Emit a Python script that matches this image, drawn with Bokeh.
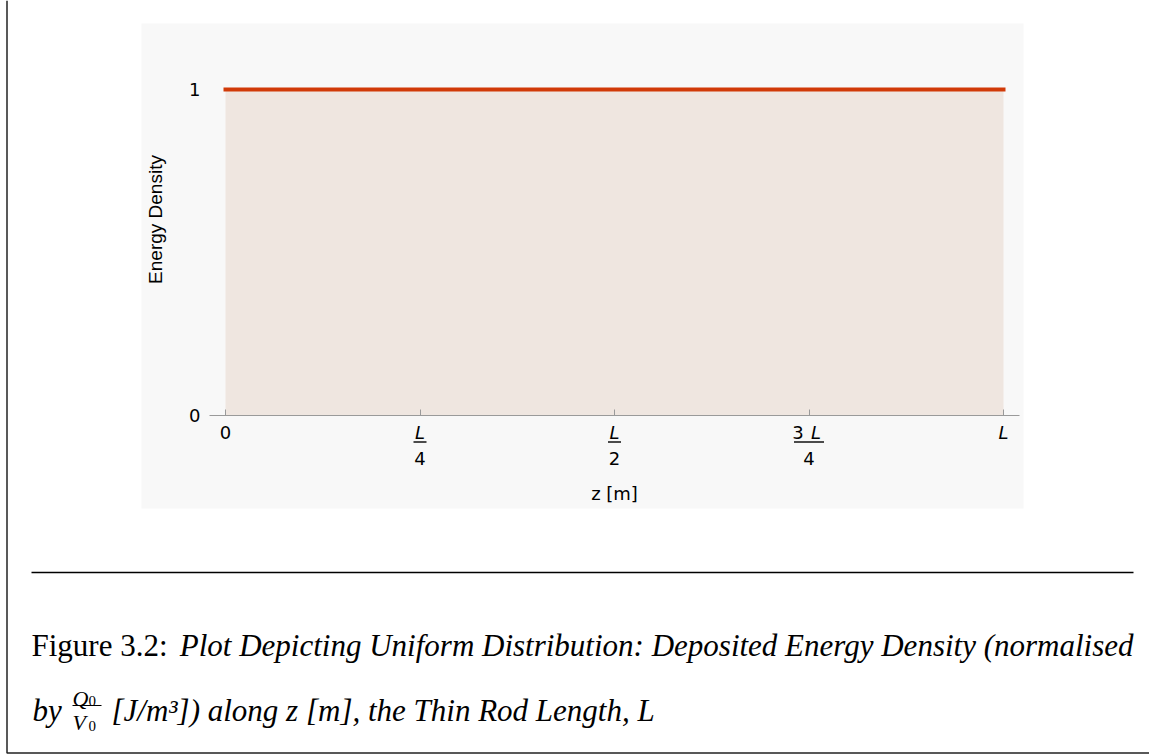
import math
from bokeh.plotting import figure
from bokeh.models import Range1d, LinearAxis, FixedTicker
from bokeh.core.properties import value
from bokeh.embed import file_html
from bokeh.resources import INLINE

# Uniform distribution: deposited energy density (normalised by Q0/V0) along the rod, z in units of L
z = [0.0, 1.0]
energy = [1.0, 1.0]

# x ticks (fractions of the rod length L) and their labels
x_ticks = [0.0, 0.25, 0.5, 0.75, 1.0]
x_tick_coef = ["", "", "", "3", ""]      # upright coefficient in numerator
x_tick_var = ["", "L", "L", "L", "L"]    # italic symbol
x_tick_den = ["", "4", "2", "4", ""]     # denominator
x_tick_plain = ["0", "", "", "", ""]     # upright plain label
y_ticks = [0, 1]

x_label = "z [m]"
y_label = "Energy Density"
caption_head = "Figure 3.2:"
caption_line1 = "Plot Depicting Uniform Distribution: Deposited Energy Density (normalised"
caption_line2_pre = "by"
caption_line2_post = "[J/m\u00b3]) along z [m], the Thin Rod Length, L"

# ---- page geometry (pixels) ----
W, H = 1149, 754
X0_PX, X1_PX = 225, 1003     # where z = 0 and z = L land
Y0_PX, Y1_PX = 415, 89       # where energy = 0 and energy = 1 land (from top)
AX_LEFT_PX, AX_RIGHT_PX = 209, 1019

kx = (X1_PX - X0_PX) / (z[-1] - z[0])
ky = (Y0_PX - Y1_PX) / 1.0
def px_to_z(px):
    return z[0] + (px - X0_PX) / kx

x_range = Range1d(px_to_z(0), px_to_z(W))
y_range = Range1d(-(H - Y0_PX) / ky, 1 + Y1_PX / ky)

p = figure(width=W, height=H, x_range=x_range, y_range=y_range,
           output_backend="svg", toolbar_location=None,
           x_axis_location=None, y_axis_location=None,
           min_border=0, outline_line_color=None,
           background_fill_color="white", border_fill_color="white")
p.xgrid.visible = False
p.ygrid.visible = False
# page-pixel coordinates for layout pieces (y measured from the top)
p.extra_x_ranges = {"px": Range1d(0, W)}
p.extra_y_ranges = {"py": Range1d(H, 0)}
PG = dict(x_range_name="px", y_range_name="py")

SANS = value("DejaVu Sans")
SERIF = value("Liberation Serif")

# plot panel background
p.quad(left=[141], right=[1023], top=[23], bottom=[508], fill_color="#f8f8f8",
       line_color=None, **PG)

# filled area under the curve and the curve itself
p.varea(x=z, y1=[0, 0], y2=energy, fill_color="#efe6e0")
p.line(x=z, y=energy, line_color="#d13a08", line_width=4, line_cap="square")

# axes
xaxis = LinearAxis(fixed_location=0, ticker=FixedTicker(ticks=x_ticks),
                   bounds=(px_to_z(AX_LEFT_PX), px_to_z(AX_RIGHT_PX)),
                   major_label_overrides={t: "" for t in x_ticks},
                   axis_line_color="#9a9a9a", axis_line_width=1.2,
                   major_tick_line_color="#9a9a9a", major_tick_in=6, major_tick_out=0,
                   minor_tick_line_color=None)
p.add_layout(xaxis, "below")

yaxis = LinearAxis(fixed_location=px_to_z(AX_LEFT_PX), ticker=FixedTicker(ticks=y_ticks),
                   axis_line_color=None, major_tick_line_color=None,
                   minor_tick_line_color=None, major_tick_in=0, major_tick_out=0,
                   major_label_standoff=9,
                   major_label_text_font="DejaVu Sans", major_label_text_font_size="18px",
                   major_label_text_color="black")
p.add_layout(yaxis, "left")

# x tick labels (fractions of L)
NUM_Y, BAR_Y, DEN_Y = 432, 441.5, 458
tick_font = dict(text_font=SANS, text_font_size="18px", text_color="black",
                 text_align="center", text_baseline="middle")
plain_x = [t for t, s in zip(x_ticks, x_tick_plain) if s]
p.text(x=plain_x, y=[NUM_Y] * len(plain_x), text=[s for s in x_tick_plain if s],
       y_range_name="py", **tick_font)
var_x = [t for t, v, c in zip(x_ticks, x_tick_var, x_tick_coef) if v]
var_off = [7 if c else 0 for v, c in zip(x_tick_var, x_tick_coef) if v]
p.text(x=var_x, y=[NUM_Y] * len(var_x), text=[v for v in x_tick_var if v],
       x_offset=var_off, y_range_name="py", text_font_style="italic", **tick_font)
coef_x = [t for t, c in zip(x_ticks, x_tick_coef) if c]
p.text(x=coef_x, y=[NUM_Y] * len(coef_x), text=[c for c in x_tick_coef if c],
       x_offset=-11, y_range_name="py", **tick_font)
den_x = [t for t, d in zip(x_ticks, x_tick_den) if d]
p.text(x=den_x, y=[DEN_Y] * len(den_x), text=[d for d in x_tick_den if d],
       y_range_name="py", **tick_font)
bar_w = [30 if c else 13 for d, c in zip(x_tick_den, x_tick_coef) if d]
p.rect(x=den_x, y=[BAR_Y] * len(den_x), width=bar_w, height=1.4,
       width_units="screen", height_units="screen",
       fill_color="black", line_color=None, y_range_name="py")

# axis titles
p.text(x=[(z[0] + z[-1]) / 2], y=[493], text=[x_label], y_range_name="py",
       text_font=SANS, text_font_size="18px", text_color="black",
       text_align="center", text_baseline="middle")
p.text(x=[155], y=[219], text=[y_label], angle=math.pi / 2,
       text_font=value("Liberation Sans"), text_font_size="19px",
       text_color="black", text_align="center", text_baseline="middle", **PG)

# page frame and rule
p.line(x=[6.5, 6.5, W], y=[0, 752.5, 752.5], line_color="#222222", line_width=1.5, **PG)
p.segment(x0=[31], y0=[572], x1=[1133], y1=[572], line_color="black", line_width=1.3, **PG)

# caption
cap = dict(text_font=SERIF, text_font_size="31px", text_color="black",
           text_baseline="alphabetic")
p.text(x=[31], y=[645], text=[caption_head], text_align="left", **cap, **PG)
p.text(x=[1133], y=[645], text=[caption_line1], text_align="right",
       text_font_style="italic", **cap, **PG)
p.text(x=[32], y=[710], text=[caption_line2_pre], text_align="left",
       text_font_style="italic", **cap, **PG)
p.text(x=[111], y=[710], text=[caption_line2_post], text_align="left",
       text_font_style="italic", **cap, **PG)
# Q0 / V0 fraction
frac = dict(text_font=SERIF, text_color="black", text_baseline="alphabetic", text_align="left")
p.text(x=[72, 72], y=[698, 722], text=["Q", "V"], text_font_size="22px",
       text_font_style="italic", **frac, **PG)
p.text(x=[88, 88], y=[700, 725], text=["0", "0"], text_font_size="15px", **frac, **PG)
p.segment(x0=[72], y0=[705], x1=[101], y1=[705], line_color="black", line_width=1, **PG)

open("out.html", "w").write(file_html(p, INLINE))
